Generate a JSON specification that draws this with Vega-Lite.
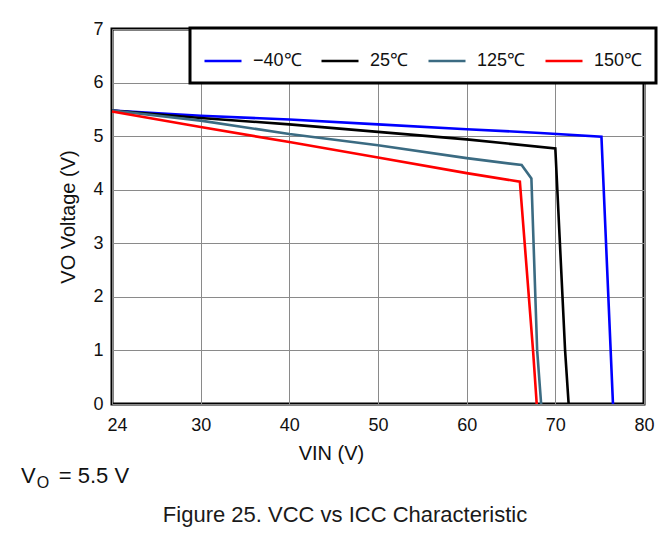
{
  "$schema": "https://vega.github.io/schema/vega-lite/v6.json",
  "width": 532,
  "height": 375,
  "autosize": "none",
  "padding": {"left": 112, "top": 29, "right": 16, "bottom": 146},
  "background": "white",
  "config": {
    "font": "Liberation Sans",
    "view": {"stroke": "black", "strokeWidth": 3},
    "axis": {
      "domain": false,
      "ticks": false,
      "grid": true,
      "gridColor": "#8a8a8a",
      "gridWidth": 1,
      "labelFontSize": 18,
      "labelColor": "#111111",
      "labelFont": "Liberation Sans",
      "titleFont": "Liberation Sans",
      "titleFontSize": 20,
      "titleFontWeight": "normal",
      "titleColor": "#111111"
    },
    "legend": {"strokeWidth": 3}
  },
  "title": {
    "text": "Figure 25. VCC vs ICC Characteristic",
    "orient": "bottom",
    "anchor": "middle",
    "frame": "group",
    "fontSize": 22,
    "fontWeight": "normal",
    "font": "Liberation Sans",
    "color": "#1a1a1a",
    "dx": -33,
    "offset": 14
  },
  "layer": [
    {
      "data": {
        "values": [
          {"vin": 20, "vo": 5.48, "temp": "−40℃"},
          {"vin": 30, "vo": 5.38, "temp": "−40℃"},
          {"vin": 40, "vo": 5.31, "temp": "−40℃"},
          {"vin": 50, "vo": 5.22, "temp": "−40℃"},
          {"vin": 60, "vo": 5.13, "temp": "−40℃"},
          {"vin": 68.3, "vo": 5.06, "temp": "−40℃"},
          {"vin": 75.2, "vo": 4.99, "temp": "−40℃"},
          {"vin": 76.5, "vo": 0, "temp": "−40℃"},
          {"vin": 20, "vo": 5.48, "temp": "25℃"},
          {"vin": 30, "vo": 5.34, "temp": "25℃"},
          {"vin": 40, "vo": 5.22, "temp": "25℃"},
          {"vin": 50, "vo": 5.08, "temp": "25℃"},
          {"vin": 60, "vo": 4.94, "temp": "25℃"},
          {"vin": 70, "vo": 4.77, "temp": "25℃"},
          {"vin": 71.1, "vo": 1.0, "temp": "25℃"},
          {"vin": 71.5, "vo": 0, "temp": "25℃"},
          {"vin": 20, "vo": 5.48, "temp": "125℃"},
          {"vin": 30, "vo": 5.29, "temp": "125℃"},
          {"vin": 40, "vo": 5.04, "temp": "125℃"},
          {"vin": 50, "vo": 4.83, "temp": "125℃"},
          {"vin": 60, "vo": 4.59, "temp": "125℃"},
          {"vin": 66.2, "vo": 4.46, "temp": "125℃"},
          {"vin": 67.3, "vo": 4.21, "temp": "125℃"},
          {"vin": 67.95, "vo": 1.0, "temp": "125℃"},
          {"vin": 68.4, "vo": 0, "temp": "125℃"},
          {"vin": 20, "vo": 5.46, "temp": "150℃"},
          {"vin": 30, "vo": 5.17, "temp": "150℃"},
          {"vin": 40, "vo": 4.89, "temp": "150℃"},
          {"vin": 50, "vo": 4.6, "temp": "150℃"},
          {"vin": 60, "vo": 4.31, "temp": "150℃"},
          {"vin": 66.0, "vo": 4.15, "temp": "150℃"},
          {"vin": 67.5, "vo": 0.97, "temp": "150℃"},
          {"vin": 67.9, "vo": 0, "temp": "150℃"}
        ]
      },
      "mark": {"type": "line", "strokeWidth": 2.6},
      "encoding": {
        "x": {
          "field": "vin",
          "type": "quantitative",
          "scale": {"domain": [20, 80], "nice": false},
          "axis": {
            "values": [20, 30, 40, 50, 60, 70, 80],
            "labelExpr": "datum.value == 20 ? '24' : datum.label",
            "labelOffset": {"condition": {"test": "datum.value == 20", "value": 5}, "value": 0},
            "labelFlush": false,
            "labelPadding": 12,
            "title": "VIN (V)",
            "titleX": 219,
            "titleAlign": "center",
            "titlePadding": 9
          }
        },
        "y": {
          "field": "vo",
          "type": "quantitative",
          "scale": {"domain": [0, 7], "nice": false},
          "axis": {
            "values": [0, 1, 2, 3, 4, 5, 6, 7],
            "format": "d",
            "labelPadding": 9,
            "title": "VO Voltage (V)",
            "titlePadding": 14
          }
        },
        "color": {
          "field": "temp",
          "type": "nominal",
          "scale": {
            "domain": ["−40℃", "25℃", "125℃", "150℃"],
            "range": ["#0000ff", "#000000", "#3b6b82", "#ff0000"]
          },
          "legend": {
            "orient": "none",
            "legendX": 78,
            "legendY": -1,
            "direction": "horizontal",
            "title": null,
            "symbolType": "stroke",
            "symbolSize": 1369,
            "symbolStrokeWidth": 2.5,
            "labelFontSize": 18,
            "labelFont": "Liberation Sans",
            "labelColor": "#111111",
            "labelOffset": 10,
            "columnPadding": 14,
            "padding": 13,
            "fillColor": "white",
            "strokeColor": "black"
          }
        }
      }
    },
    {
      "data": {"values": [{}]},
      "mark": {"type": "text", "text": "V", "align": "left", "baseline": "alphabetic", "fontSize": 22, "font": "Liberation Sans", "color": "#111111"},
      "encoding": {
        "x": {"datum": 9.75, "type": "quantitative"},
        "y": {"datum": -1.475, "type": "quantitative"}
      }
    },
    {
      "data": {"values": [{}]},
      "mark": {"type": "text", "text": "O", "align": "left", "baseline": "alphabetic", "fontSize": 16, "font": "Liberation Sans", "color": "#111111"},
      "encoding": {
        "x": {"datum": 11.5, "type": "quantitative"},
        "y": {"datum": -1.57, "type": "quantitative"}
      }
    },
    {
      "data": {"values": [{}]},
      "mark": {"type": "text", "text": "= 5.5 V", "align": "left", "baseline": "alphabetic", "fontSize": 22, "font": "Liberation Sans", "color": "#111111"},
      "encoding": {
        "x": {"datum": 14.0, "type": "quantitative"},
        "y": {"datum": -1.475, "type": "quantitative"}
      }
    }
  ]
}
